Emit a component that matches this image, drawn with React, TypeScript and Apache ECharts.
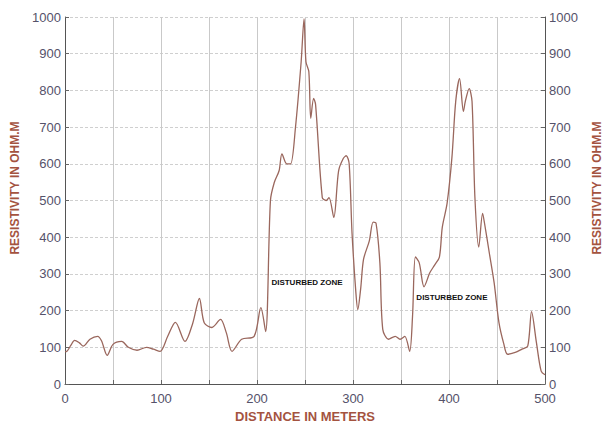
import React, { useEffect, useRef } from "react";
import * as echarts from "echarts";

const distances = [0, 2, 6, 10, 15, 19, 26, 34, 38, 44, 50, 59, 66, 75, 85, 92, 99, 107, 115, 125, 133, 140, 145, 153, 162, 168, 174, 184, 197, 204, 209, 214, 218, 223, 226, 231, 235, 240, 246, 249, 251, 254, 256, 259, 261, 268, 272, 275, 280, 285, 290, 293, 296, 299, 303, 305, 308, 311, 317, 321, 324, 328, 331, 337, 344, 349, 354, 359, 362, 365, 369, 374, 380, 385, 390, 393, 398, 403, 407, 411, 415, 417, 421, 424, 427, 431, 435, 437, 442, 447, 452, 457, 461, 469, 476, 482, 486, 491, 496, 500];
const resistivity = [88, 89, 105, 119, 112, 103, 122, 130, 118, 78, 108, 116, 100, 92, 100, 95, 89, 130, 168, 116, 165, 233, 167, 154, 176, 140, 89, 122, 130, 208, 143, 500, 549, 581, 627, 600, 600, 697, 878, 995, 878, 851, 724, 778, 762, 508, 500, 508, 454, 581, 615, 622, 600, 411, 249, 203, 260, 340, 390, 441, 438, 330, 149, 122, 130, 122, 130, 89, 184, 346, 330, 265, 303, 324, 346, 427, 492, 616, 770, 832, 743, 770, 805, 770, 508, 373, 465, 438, 357, 276, 168, 110, 81, 86, 95, 103, 197, 114, 35, 25];

const annotations = [
  { label: "DISTURBED ZONE", x: 215, y: 276 },
  { label: "DISTURBED ZONE", x: 366, y: 235 },
];

const yTitle = "RESISTIVITY IN OHM.M";
const xTitle = "DISTANCE IN METERS";

export default function App() {
  const ref = useRef<HTMLDivElement>(null);
  useEffect(() => {
    if (!ref.current) return;
    const chart = echarts.init(ref.current, undefined, { renderer: "svg" });
    const labelStyle = { color: "#55526a", fontFamily: "Arial, Liberation Sans, sans-serif", fontSize: 13 };
    const titleColor = "#a4533f";
    chart.setOption({
      animation: false,
      backgroundColor: "#ffffff",
      grid: { left: 65, right: 61, top: 17, bottom: 39, outerBoundsMode: "none", containLabel: false },
      xAxis: {
        type: "value",
        min: 0,
        max: 500,
        interval: 50,
        name: xTitle,
        nameLocation: "middle",
        nameGap: 22,
        nameTextStyle: { color: titleColor, fontWeight: "bold", fontSize: 13, fontFamily: "Arial, Liberation Sans, sans-serif" },
        axisLine: { show: true, lineStyle: { color: "#555", width: 1 } },
        axisTick: { show: true, inside: true, length: 4, lineStyle: { color: "#666" } },
        axisLabel: { ...labelStyle, margin: 8, formatter: (v: number) => (v % 100 === 0 ? String(v) : "") },
        splitLine: { show: true, lineStyle: { color: "#c9c9c9", width: 1 } },
      },
      yAxis: [
        {
          type: "value",
          min: 0,
          max: 1000,
          interval: 100,
          axisLine: { show: true, lineStyle: { color: "#555", width: 1 } },
          axisTick: { show: true, inside: true, length: 4, lineStyle: { color: "#666" } },
          axisLabel: { ...labelStyle, margin: 4, formatter: (v: number) => String(v) },
          splitLine: { show: true, lineStyle: { color: "#cfcfcf", width: 1, type: [3, 2] } },
        },
        {
          type: "value",
          position: "right",
          min: 0,
          max: 1000,
          interval: 100,
          axisLine: { show: true, lineStyle: { color: "#555", width: 1 } },
          axisTick: { show: true, inside: true, length: 4, lineStyle: { color: "#666" } },
          axisLabel: { ...labelStyle, margin: 4, formatter: (v: number) => String(v) },
          splitLine: { show: false },
        },
      ],
      graphic: [
        {
          type: "text",
          x: 15,
          y: 188,
          rotation: Math.PI / 2,
          style: { text: yTitle, fill: titleColor, font: "bold 12px Arial, Liberation Sans, sans-serif", align: "center", verticalAlign: "middle" },
        },
        {
          type: "text",
          x: 597,
          y: 188,
          rotation: Math.PI / 2,
          style: { text: yTitle, fill: titleColor, font: "bold 12px Arial, Liberation Sans, sans-serif", align: "center", verticalAlign: "middle" },
        },
      ],
      series: [
        {
          type: "line",
          data: distances.map((d, i) => [d, resistivity[i]]),
          showSymbol: false,
          smooth: 0.3,
          lineStyle: { color: "#9a675d", width: 1.3 },
          markPoint: {
            symbol: "circle",
            symbolSize: 0,
            data: annotations.map((a) => ({
              coord: [a.x, a.y],
              label: {
                show: true,
                position: "right",
                distance: 0,
                formatter: a.label,
                color: "#111",
                fontSize: 8,
                fontWeight: "bold",
                fontFamily: "Arial, Liberation Sans, sans-serif",
              },
            })),
          },
        },
      ],
    });
    return () => chart.dispose();
  }, []);
  return <div ref={ref} style={{ width: 606, height: 423, position: "absolute", left: 0, top: 0 }} />;
}
